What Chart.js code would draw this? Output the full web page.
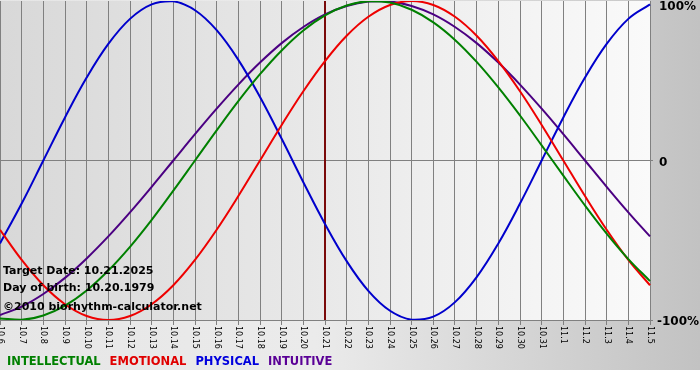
<!DOCTYPE html>
<html><head><meta charset="utf-8">
<script src="https://cdn.jsdelivr.net/npm/chart.js@4"></script>
<style>html,body{margin:0;padding:0;background:#fff;} #wrap{width:700px;height:380px;position:relative;}</style>
</head><body><div id="wrap"><canvas id="c" width="700" height="380"></canvas></div>
<script>
const days = ['10.6','10.7','10.8','10.9','10.10','10.11','10.12','10.13','10.14','10.15','10.16','10.17','10.18','10.19','10.20','10.21','10.22','10.23','10.24','10.25','10.26','10.27','10.28','10.29','10.30','10.31','11.1','11.2','11.3','11.4','11.5'];
const intellectual = [-99.0,-99.9,-97.2,-91.0,-81.5,-69.0,-54.1,-37.2,-18.9,0,18.9,37.2,54.1,69.0,81.5,91.0,97.2,99.9,99.0,94.5,86.6,75.6,61.8,45.8,28.2,9.5,-9.5,-28.2,-45.8,-61.8,-75.6];
const emotional = [-43.4,-62.3,-78.2,-90.1,-97.5,-100,-97.5,-90.1,-78.2,-62.3,-43.4,-22.3,0,22.3,43.4,62.3,78.2,90.1,97.5,100,97.5,90.1,78.2,62.3,43.4,22.3,0,-22.3,-43.4,-62.3,-78.2];
const physical = [-52.0,-27.0,0,27.0,52.0,73.1,88.8,97.9,99.8,94.2,81.7,63.1,39.8,13.6,-13.6,-39.8,-63.1,-81.7,-94.2,-99.8,-97.9,-88.8,-73.1,-52.0,-27.0,0,27.0,52.0,73.1,88.8,97.9];
const intuitive = [-96.9,-91.6,-83.7,-73.6,-61.4,-47.6,-32.5,-16.5,0,16.5,32.5,47.6,61.4,73.6,83.7,91.6,96.9,99.7,99.7,96.9,91.6,83.7,73.6,61.4,47.6,32.5,16.5,0,-16.5,-32.5,-47.6];
const yTicks = [-100, 0, 100];
const yTickLabels = ['-100%', '0', '100%'];
const targetDay = '10.21';
const infoLines = ['Target Date: 10.21.2025', 'Day of birth: 10.20.1979', '\u00A92010 biorhythm-calculator.net'];
const seriesNames = ['INTELLECTUAL', 'EMOTIONAL', 'PHYSICAL', 'INTUITIVE'];
const seriesColors = ['#008000', '#ee0000', '#0000cc', '#4b0082'];
const legendColors = ['#008000', '#e00000', '#0000dd', '#5a0096'];

const FONT = '"DejaVu Sans", Verdana, sans-serif';

const bgPlugin = {
  id: 'bg',
  beforeDraw(chart) {
    const ctx = chart.ctx, W = chart.width, H = chart.height, a = chart.chartArea;
    ctx.save();
    ctx.fillStyle = '#ffffff';
    ctx.fillRect(0, 0, W, H);
    const g = ctx.createLinearGradient(0, 0, W, 0);
    g.addColorStop(0, '#e6e6e6');
    g.addColorStop(0.45, '#ebebeb');
    g.addColorStop(1, '#c2c2c2');
    ctx.fillStyle = g;
    ctx.fillRect(0, 0, W, 370);
    const g2 = ctx.createLinearGradient(a.left, 0, a.right, 0);
    g2.addColorStop(0, '#d8d8d8');
    g2.addColorStop(1, '#fafafa');
    ctx.fillStyle = g2;
    ctx.fillRect(a.left, a.top, a.right - a.left, a.bottom - a.top);
    ctx.restore();
  },
  beforeDatasetsDraw(chart) {
    const ctx = chart.ctx, a = chart.chartArea, xs = chart.scales.x;
    const x = xs.getPixelForValue(days.indexOf(targetDay));
    ctx.save();
    ctx.strokeStyle = '#7a0a0a';
    ctx.lineWidth = 2;
    ctx.beginPath();
    ctx.moveTo(x, a.top);
    ctx.lineTo(x, a.bottom);
    ctx.stroke();
    ctx.restore();
  },
  afterDraw(chart) {
    const ctx = chart.ctx, xs = chart.scales.x, ysc = chart.scales.y;
    ctx.save();
    // x tick labels, rotated clockwise
    ctx.font = '8px ' + FONT;
    ctx.fillStyle = '#000';
    ctx.textAlign = 'left';
    ctx.textBaseline = 'middle';
    xs.ticks.forEach((t, i) => {
      const x = xs.getPixelForTick(i);
      ctx.save();
      ctx.translate(x, xs.top + 6);
      ctx.rotate(Math.PI / 2);
      ctx.fillText(days[t.value], 0, 0);
      ctx.restore();
    });
    // y tick labels
    ctx.font = 'bold 12px ' + FONT;
    yTicks.forEach((v, i) => {
      const y = Math.max(ysc.getPixelForValue(v) + 2, 7);
      ctx.fillText(yTickLabels[i], v < 0 ? ysc.left + 7 : ysc.left + 9, y);
    });
    // info text
    ctx.font = 'bold 11px ' + FONT;
    ctx.fillStyle = '#000';
    const ys = [271, 288, 307];
    infoLines.forEach((s, i) => ctx.fillText(s, 3, ys[i]));
    // legend
    ctx.font = 'bold 11.5px ' + FONT;
    let lx = 7;
    seriesNames.forEach((s, i) => {
      ctx.fillStyle = legendColors[i];
      ctx.fillText(s, lx, 362);
      lx += ctx.measureText(s).width + 9;
    });
    ctx.restore();
  }
};

const data = {
  labels: days,
  datasets: [
    { label: seriesNames[0], data: intellectual, borderColor: seriesColors[0] },
    { label: seriesNames[1], data: emotional, borderColor: seriesColors[1] },
    { label: seriesNames[2], data: physical, borderColor: seriesColors[2] },
    { label: seriesNames[3], data: intuitive, borderColor: seriesColors[3] }
  ].map(d => Object.assign(d, { borderWidth: 2, pointRadius: 0, tension: 0.4, fill: false }))
};

new Chart(document.getElementById('c'), {
  type: 'line',
  data,
  plugins: [bgPlugin],
  options: {
    responsive: false,
    animation: false,
    events: [],
    layout: { padding: { top: 1, left: 0, right: 0, bottom: 10 } },
    plugins: { legend: { display: false }, tooltip: { enabled: false } },
    scales: {
      x: {
        type: 'category',
        offset: false,
        grid: { color: '#808080', lineWidth: 1, tickLength: 5, drawTicks: true },
        border: { color: '#808080' },
        ticks: { display: false, autoSkip: false },
        afterFit(s) { s.height = 50; s.paddingLeft = 0; s.paddingRight = 0; }
      },
      y: {
        position: 'right',
        min: -100, max: 100,
        afterBuildTicks(s) { s.ticks = yTicks.map(v => ({ value: v })); },
        grid: {
          color: c => (c.tick && c.tick.value === 100) ? 'rgba(0,0,0,0)' : '#808080',
          lineWidth: 1, tickLength: 3
        },
        border: { color: '#808080' },
        ticks: { display: false },
        afterFit(s) { s.width = 50; s.paddingTop = 0; s.paddingBottom = 0; }
      }
    }
  }
});
</script>
</body></html>
